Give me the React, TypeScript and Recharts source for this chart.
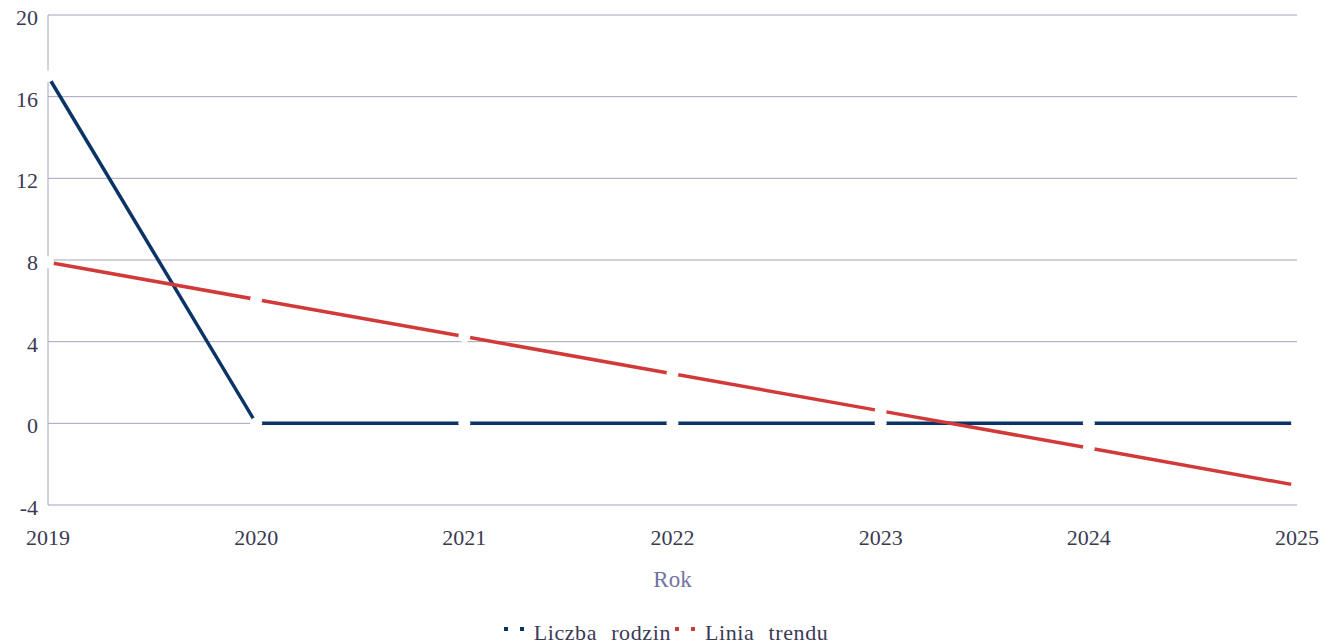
import { CartesianGrid, Legend, Line, LineChart, XAxis, YAxis } from 'recharts';

const years = ['2019', '2020', '2021', '2022', '2023', '2024', '2025'];
const families = [17, 0, 0, 0, 0, 0, 0];
const trend = [7.89, 6.07, 4.25, 2.43, 0.61, -1.21, -3.04];
const yTicks = [-4, 0, 4, 8, 12, 16, 20];

const NAVY = '#0b3466';
const RED = '#d23a3a';
const TEXT = '#3a3a55';
const GRID = '#a4a4bc';
const FONT = '"Liberation Serif", "Times New Roman", serif';

const data = years.map((year, i) => ({ year, families: families[i], trend: trend[i] }));

// white dot cuts a small gap into the line at each data point
const GapDot = (props: any) => {
  const { cx, cy, index } = props;
  if (cx == null || cy == null) return null;
  return <circle key={index} cx={cx} cy={cy} r={6} fill="#ffffff" stroke="none" />;
};

const YTick = ({ x, y, payload }: any) => (
  <text x={x} y={y + 10} textAnchor="end" fontSize={22} fontFamily={FONT} fill={TEXT}>
    {payload.value}
  </text>
);

const XTick = ({ x, y, payload }: any) => (
  <text x={x} y={y + 40} textAnchor="middle" fontSize={22} fontFamily={FONT} fill={TEXT}>
    {payload.value}
  </text>
);

const AxisTitle = ({ viewBox }: any) => (
  <text x={viewBox.x + viewBox.width / 2} y={587} textAnchor="middle" fontSize={23} fontFamily={FONT} fill="#7373a0">
    Rok
  </text>
);

const legendItems = [
  { label: 'Liczba rodzin', color: NAVY },
  { label: 'Linia trendu', color: RED },
];

const LegendContent = () => (
  <div
    style={{
      display: 'flex',
      justifyContent: 'center',
      alignItems: 'flex-start',
      height: 30,
      lineHeight: '30px',
      fontFamily: FONT,
      fontSize: 22,
      color: TEXT,
      wordSpacing: 8,
      letterSpacing: 0.6,
      paddingRight: 4,
    }}
  >
    {legendItems.map((item) => (
      <div key={item.label} style={{ display: 'flex', alignItems: 'flex-start' }}>
        <span style={{ width: 4, height: 4, background: item.color, marginTop: 9, marginLeft: 4 }} />
        <span style={{ width: 4, height: 4, background: item.color, marginTop: 9, marginLeft: 12 }} />
        <span style={{ marginLeft: 10 }}>{item.label}</span>
      </div>
    ))}
  </div>
);

export default function App() {
  return (
    <div style={{ position: 'absolute', left: 0, top: 0, background: '#fff' }}>
      <LineChart width={1332} height={643} data={data} margin={{ top: 15, right: 35, left: 0, bottom: 0 }}>
        <CartesianGrid vertical={false} stroke={GRID} strokeWidth={1} />
        <XAxis
          dataKey="year"
          axisLine={false}
          tickLine={false}
          tickSize={0}
          tickMargin={0}
          height={108}
          interval={0}
          tick={<XTick />}
          label={<AxisTitle />}
        />
        <YAxis
          domain={[-4, 20]}
          ticks={yTicks}
          width={48}
          axisLine={{ stroke: GRID, strokeWidth: 1 }}
          tickLine={false}
          tickSize={0}
          tickMargin={10}
          interval={0}
          tick={<YTick />}
        />
        <Line
          type="linear"
          dataKey="families"
          name="Liczba rodzin"
          stroke={NAVY}
          strokeWidth={3.5}
          dot={<GapDot />}
          activeDot={false}
          isAnimationActive={false}
        />
        <Line
          type="linear"
          dataKey="trend"
          name="Linia trendu"
          stroke={RED}
          strokeWidth={3.5}
          dot={<GapDot />}
          activeDot={false}
          isAnimationActive={false}
        />
        <Legend
          verticalAlign="bottom"
          content={<LegendContent />}
          wrapperStyle={{ top: 618, bottom: 'auto', left: 0, width: 1332, height: 30 }}
        />
      </LineChart>
    </div>
  );
}
